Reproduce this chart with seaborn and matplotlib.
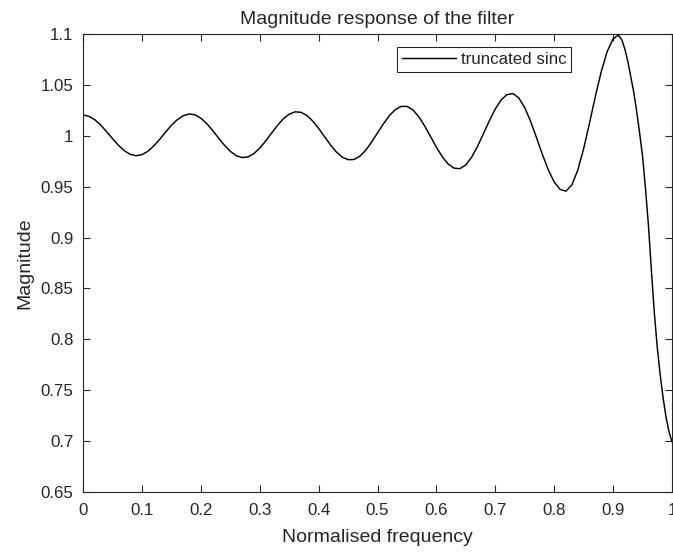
import matplotlib
matplotlib.use("Agg")
import matplotlib.pyplot as plt
import pandas as pd
import seaborn as sns

# ---- data ----
freq = [0.00, 0.01, 0.02, 0.03, 0.04, 0.05, 0.06, 0.07, 0.08, 0.09,
        0.10, 0.11, 0.12, 0.13, 0.14, 0.15, 0.16, 0.17, 0.18, 0.19,
        0.20, 0.21, 0.22, 0.23, 0.24, 0.25, 0.26, 0.27, 0.28, 0.29,
        0.30, 0.31, 0.32, 0.33, 0.34, 0.35, 0.36, 0.37, 0.38, 0.39,
        0.40, 0.41, 0.42, 0.43, 0.44, 0.45, 0.46, 0.47, 0.48, 0.49,
        0.50, 0.51, 0.52, 0.53, 0.54, 0.55, 0.56, 0.57, 0.58, 0.59,
        0.60, 0.61, 0.62, 0.63, 0.64, 0.65, 0.66, 0.67, 0.68, 0.69,
        0.70, 0.71, 0.72, 0.73, 0.74, 0.75, 0.76, 0.77, 0.78, 0.79,
        0.80, 0.81, 0.82, 0.83, 0.84, 0.85, 0.86, 0.87, 0.88, 0.89,
        0.90, 0.909, 0.915, 0.920, 0.925, 0.930, 0.935, 0.940, 0.945, 0.950,
        0.955, 0.960, 0.965, 0.970, 0.975, 0.980, 0.985, 0.990, 0.995, 1.000]

magnitude = [1.0204, 1.0192, 1.0158, 1.0106, 1.0041, 0.9973, 0.9908, 0.9854, 0.9818, 0.9804,
             0.9814, 0.9847, 0.9899, 0.9964, 1.0035, 1.0102, 1.0158, 1.0197, 1.0214, 1.0206,
             1.0173, 1.0120, 1.0053, 0.9979, 0.9908, 0.9848, 0.9805, 0.9786, 0.9792, 0.9824,
             0.9878, 0.9948, 1.0025, 1.0101, 1.0166, 1.0212, 1.0235, 1.0231, 1.0200, 1.0145,
             1.0073, 0.9992, 0.9912, 0.9842, 0.9791, 0.9765, 0.9767, 0.9799, 0.9858, 0.9938,
             1.0028, 1.0117, 1.0197, 1.0256, 1.0288, 1.0289, 1.0255, 1.0188, 1.0097, 0.9993,
             0.9888, 0.9794, 0.9722, 0.9682, 0.9677, 0.9714, 0.9791, 0.9898, 1.0022, 1.0149,
             1.0264, 1.0353, 1.0405, 1.0415, 1.0371, 1.0276, 1.0141, 0.9981, 0.9816, 0.9665,
             0.9546, 0.9473, 0.9456, 0.9517, 0.9662, 0.9873, 1.0126, 1.0390, 1.0633, 1.0829,
             1.0952, 1.0990, 1.0940, 1.0850, 1.0730, 1.0580, 1.0430, 1.0240, 1.0030, 0.9800,
             0.9480, 0.9120, 0.8680, 0.8260, 0.7920, 0.7650, 0.7420, 0.7230, 0.7090, 0.6994]

series_name = "truncated sinc"
title_text = "Magnitude response of the filter"
x_label = "Normalised frequency"
y_label = "Magnitude"

x_ticks = [0, 0.1, 0.2, 0.3, 0.4, 0.5, 0.6, 0.7, 0.8, 0.9, 1.0]
x_tick_labels = ["0", "0.1", "0.2", "0.3", "0.4", "0.5", "0.6", "0.7", "0.8", "0.9", "1"]
y_ticks = [0.65, 0.7, 0.75, 0.8, 0.85, 0.9, 0.95, 1.0, 1.05, 1.1]
y_tick_labels = ["0.65", "0.7", "0.75", "0.8", "0.85", "0.9", "0.95", "1", "1.05", "1.1"]

# ---- style ----
sns.set_style("ticks")
plt.rcParams['font.family'] = ['Liberation Sans', 'DejaVu Sans']
axis_color = "#262626"

W, H = 673, 552
fig = plt.figure(figsize=(W / 100, H / 100), dpi=100)
fig.patch.set_facecolor("white")
left, right, top, bottom = 83, 672, 34, 492
ax = fig.add_axes([left / W, 1 - bottom / H, (right - left) / W, (bottom - top) / H])

df = pd.DataFrame({"freq": freq, "mag": magnitude, "series": series_name})
sns.lineplot(data=df, x="freq", y="mag", ax=ax, color="black", linewidth=1.05,
             estimator=None, sort=False, label=series_name)

ax.set_xlim(0, 1)
ax.set_ylim(0.65, 1.1)
ax.set_xticks(x_ticks)
ax.set_xticklabels(x_tick_labels)
ax.set_yticks(y_ticks)
ax.set_yticklabels(y_tick_labels)

for s in ax.spines.values():
    s.set_visible(True)
    s.set_color(axis_color)
    s.set_linewidth(0.8)

ax.tick_params(axis="both", direction="in", top=True, right=True, length=5, width=0.8,
               color=axis_color, labelcolor=axis_color, labelsize=12.2)
ax.tick_params(axis="x", pad=8)
ax.tick_params(axis="y", pad=7)

ax.set_xlabel(x_label, fontsize=14, color=axis_color)
ax.set_ylabel(y_label, fontsize=14, color=axis_color)
ax.xaxis.set_label_coords(0.5, -(538 - bottom) / (bottom - top))
ax.xaxis.label.set_va("center")
ax.yaxis.set_label_coords(-(left - 25) / (right - left), 0.5)
ax.yaxis.label.set_va("center")

ax.set_title(title_text, fontsize=14, color=axis_color, y=1 + (top - 19) / (bottom - top),
             pad=0, va="center")

leg = ax.legend(loc="upper left", bbox_to_anchor=(397 / W, 1 - 47 / H),
                bbox_transform=fig.transFigure, borderaxespad=0,
                fontsize=12.2, frameon=True, fancybox=False, shadow=False,
                handlelength=3.2, handletextpad=0.25, borderpad=0.3)
leg.get_frame().set_edgecolor(axis_color)
leg.get_frame().set_linewidth(0.8)
leg.get_frame().set_facecolor("white")
leg.get_frame().set_alpha(1)
for t in leg.get_texts():
    t.set_color(axis_color)

fig.savefig("out.png", dpi=100)
